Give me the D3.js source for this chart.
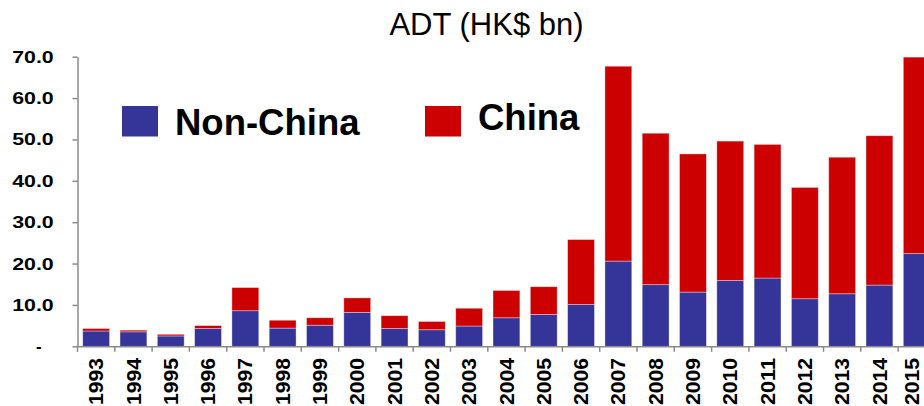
<!DOCTYPE html>
<html>
<head>
<meta charset="utf-8">
<script src="https://cdn.jsdelivr.net/npm/d3@7"></script>
<style>
  html, body { margin: 0; padding: 0; background: #fff; }
  svg { display: block; font-family: "Liberation Sans", Arial, Helvetica, sans-serif; }
</style>
</head>
<body>
<svg id="chart" width="924" height="406"></svg>
<script>
const years = ["1993","1994","1995","1996","1997","1998","1999","2000","2001","2002","2003","2004","2005","2006","2007","2008","2009","2010","2011","2012","2013","2014","2015"];
const nonChina = [3.7,3.5,2.5,4.3,8.6,4.4,5.1,8.2,4.3,4.0,4.9,6.9,7.7,10.1,20.6,14.9,13.1,15.9,16.5,11.5,12.7,14.8,22.4];
const china    = [0.6,0.4,0.4,0.7,5.6,1.9,1.8,3.5,3.1,2.0,4.3,6.6,6.7,15.7,47.1,36.6,33.4,33.7,32.3,26.9,33.0,36.1,47.5];
const yTicks = [0,10,20,30,40,50,60,70];
const yTickLabels = ["-","10.0","20.0","30.0","40.0","50.0","60.0","70.0"];
const seriesNames = ["Non-China","China"];
const seriesColors = ["#343499","#CC0000"];
const chartTitle = "ADT (HK$ bn)";

(function () {
const W = 924;
const svg = d3.select("#chart");
const mLeft = 77.5, mBottom = 346.3, mTop = 56.7, step = 37.3;
const mRight = mLeft + years.length * step;

const xBand = d3.scaleBand().domain(years).range([mLeft, mRight]).padding(0);
const xBar = d3.scaleBand().domain(years).range([mLeft, mRight]).paddingInner(0.28).paddingOuter(0.14);
const y = d3.scaleLinear().domain([0, 70]).range([mBottom, mTop]);

const rows = years.map((yr, i) => ({year: yr, "Non-China": nonChina[i], "China": china[i]}));
const stacked = d3.stack().keys(seriesNames)(rows);

// bars
svg.append("g").selectAll("g").data(stacked).join("g")
  .attr("fill", (d, i) => seriesColors[i])
  .selectAll("rect").data(d => d).join("rect")
  .attr("x", d => xBar(d.data.year))
  .attr("width", xBar.bandwidth())
  .attr("y", d => y(d[1]))
  .attr("height", d => y(d[0]) - y(d[1]))
  .attr("stroke", "rgba(255,255,255,0.45)")
  .attr("stroke-width", 0.8);

// y axis
const yAxis = d3.axisLeft(y).tickValues(yTicks)
  .tickFormat((d, i) => yTickLabels[i])
  .tickSize(5).tickPadding(18.8).tickSizeOuter(0);
const gy = svg.append("g").attr("transform", `translate(${mLeft},0)`).call(yAxis);
gy.select(".domain").attr("stroke", "#8a8a8a").attr("stroke-width", 1.5);
gy.selectAll(".tick line").attr("stroke", "#8a8a8a").attr("stroke-width", 1.5);
gy.selectAll(".tick text")
  .attr("fill", "#000").attr("font-size", 17).attr("font-weight", "bold")
  .attr("font-family", "Liberation Sans, Arial, sans-serif")
  .each(function(d, i) {
    const t = d3.select(this);
    if (yTickLabels[i] === "-") {
      t.attr("x", -35.8);
    } else {
      t.attr("textLength", 41.5).attr("lengthAdjust", "spacingAndGlyphs");
    }
  });

// x axis line
const xAxis = d3.axisBottom(xBand).tickSize(0).tickFormat("");
const gx = svg.append("g").attr("transform", `translate(0,${mBottom})`).call(xAxis);
gx.select(".domain").attr("stroke", "#8a8a8a").attr("stroke-width", 1.5);
// boundary ticks
gx.selectAll("line.bt").data(years).join("line").attr("class", "bt")
  .attr("x1", d => xBand(d)).attr("x2", d => xBand(d))
  .attr("y1", 0).attr("y2", 5.5)
  .attr("stroke", "#8a8a8a").attr("stroke-width", 1.5);

// year labels
const fs = 21;
svg.append("g").selectAll("text").data(years).join("text")
  .attr("transform", d => {
    const cx = Math.min(xBand(d) + xBand.bandwidth() / 2 - 0.5, W - 12.5);
    return `translate(${cx},358) rotate(-90)`;
  })
  .attr("text-anchor", "end")
  .attr("dy", "0.36em")
  .attr("font-size", fs).attr("font-weight", "bold").attr("fill", "#000")
  .attr("textLength", 47).attr("lengthAdjust", "spacingAndGlyphs")
  .text(d => d);

// title
svg.append("text").attr("x", 486.5).attr("y", 35)
  .attr("text-anchor", "middle").attr("font-size", 31).attr("fill", "#000")
  .text(chartTitle);

// legend
const legendPos = [{sx: 122, tx: 175, ty: 135}, {sx: 425, tx: 478, ty: 130}];
const lg = svg.append("g");
seriesNames.forEach((name, i) => {
  lg.append("rect").attr("x", legendPos[i].sx).attr("y", 106).attr("width", 36).attr("height", 30.5)
    .attr("fill", seriesColors[i]);
  lg.append("text").attr("x", legendPos[i].tx).attr("y", legendPos[i].ty)
    .attr("font-size", 36.5).attr("font-weight", "bold").attr("fill", "#000")
    .text(name);
});
})();
</script>
</body>
</html>
